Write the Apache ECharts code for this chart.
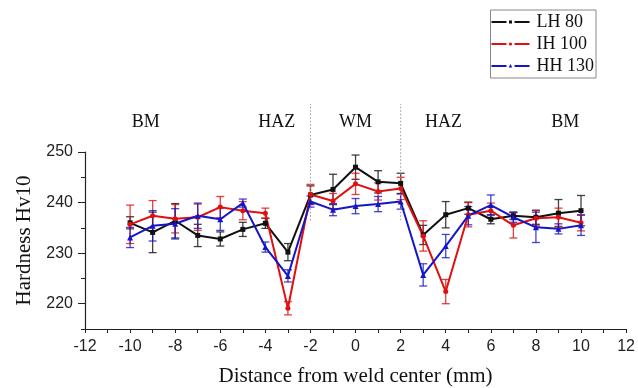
<!DOCTYPE html>
<html>
<head>
<meta charset="utf-8">
<script src="https://cdn.jsdelivr.net/npm/echarts@6/dist/echarts.min.js"></script>
<style>
  html, body { margin: 0; padding: 0; background: #fff; }
  #main { width: 638px; height: 388px; }
</style>
</head>
<body>
<div id="main"></div>
<script>
// distance from weld center (mm)
var distance = [-10, -9, -8, -7, -6, -5, -4, -3, -2, -1, 0, 1, 2, 3, 4, 5, 6, 7, 8, 9, 10];

// hardness values and error (+/-)
var lh80 = [236.0, 234.1, 236.4, 233.5, 232.8, 234.7, 235.9, 230.2, 241.5, 242.6, 247.0, 244.1, 243.8, 233.6, 237.6, 238.9, 236.7, 237.4, 237.1, 237.9, 238.4];
var lh80Err = [1.2, 4.0, 3.4, 2.2, 1.4, 1.4, 1.0, 1.7, 1.8, 3.0, 2.4, 2.2, 2.0, 1.9, 2.6, 1.2, 0.9, 0.7, 1.4, 2.7, 3.0];
var ih100 = [235.7, 237.4, 236.8, 237.1, 239.1, 238.4, 237.9, 219.1, 241.6, 240.3, 243.7, 242.2, 242.8, 233.4, 222.4, 237.6, 238.4, 235.5, 236.9, 237.1, 236.0];
var ih100Err = [3.8, 3.0, 2.8, 2.6, 2.1, 1.8, 1.0, 1.3, 2.0, 1.5, 2.1, 1.7, 2.2, 3.0, 2.4, 2.4, 1.5, 2.5, 1.5, 1.8, 1.6];
var hh130 = [233.1, 235.4, 235.8, 237.4, 236.7, 239.9, 231.2, 225.5, 240.2, 238.6, 239.3, 239.7, 240.2, 225.7, 231.4, 237.4, 239.5, 237.1, 235.1, 234.8, 235.5];
var hh130Err = [2.0, 3.0, 3.0, 2.5, 2.2, 0.8, 1.0, 1.2, 1.1, 1.2, 1.5, 1.5, 1.5, 2.2, 2.3, 1.8, 2.0, 1.0, 3.0, 1.0, 2.0];

// zone annotations
var zoneNames = ['BM', 'HAZ', 'WM', 'HAZ', 'BM'];
var zoneX = [-9.3, -3.5, 0, 3.9, 9.3];
var zoneY = 255.9;
var boundaryX = [-2, 2];
var boundaryRange = [236.5, 259.5];

// y ticks
var yMajorTicks = [220, 230, 240, 250];

var chart = echarts.init(document.getElementById('main'));

function pairs(ys) {
  return distance.map(function (x, i) { return [x, ys[i]]; });
}
function errData(ys, es) {
  return distance.map(function (x, i) { return [x, ys[i] - es[i], ys[i] + es[i]]; });
}

function errSeries(ys, es, color) {
  return {
    type: 'custom',
    data: errData(ys, es),
    z: 1,
    silent: true,
    renderItem: function (params, api) {
      var x = api.value(0);
      var lo = api.coord([x, api.value(1)]);
      var hi = api.coord([x, api.value(2)]);
      var w = 4;
      var st = { stroke: color, lineWidth: 1.3, opacity: 0.8 };
      return {
        type: 'group',
        children: [
          { type: 'line', shape: { x1: lo[0], y1: lo[1], x2: hi[0], y2: hi[1] }, style: st },
          { type: 'line', shape: { x1: lo[0] - w, y1: lo[1], x2: lo[0] + w, y2: lo[1] }, style: st },
          { type: 'line', shape: { x1: hi[0] - w, y1: hi[1], x2: hi[0] + w, y2: hi[1] }, style: st }
        ]
      };
    }
  };
}

var BLACK = '#111111', RED = '#e01010', BLUE = '#1616c8';
var serif = 'Liberation Serif, Times New Roman, serif';
var sans = 'Liberation Sans, Arial, sans-serif';

// legend icons: line - marker - line
var legendLines = 'M0,1h15v2h-15z M23,1h15v2h-15z ';
var legendIcons = {
  'LH 80': 'path://' + legendLines + 'M17.5,0.5h3v3h-3z',
  'IH 100': 'path://' + legendLines + 'M17.4,2a1.6,1.6 0 1,0 3.2,0a1.6,1.6 0 1,0 -3.2,0z',
  'HH 130': 'path://' + legendLines + 'M19,0L20.8,3.6H17.2z M0,0h0.01v4h-0.01z'
};

var option = {
  animation: false,
  backgroundColor: '#fff',
  grid: { left: 85, right: 11, top: 152, bottom: 59, containLabel: false },
  legend: {
    orient: 'vertical',
    right: 42,
    top: 10,
    padding: [3, 2, 3, 1],
    borderColor: '#888',
    borderWidth: 1,
    itemWidth: 38,
    itemHeight: 4,
    itemGap: 4,
    textStyle: { fontFamily: serif, fontSize: 18, color: '#111', padding: [0, 0, 0, 2] },
    data: ['LH 80', 'IH 100', 'HH 130'].map(function (n) {
      return { name: n, icon: legendIcons[n] };
    })
  },
  xAxis: {
    type: 'value',
    min: -12,
    max: 12,
    interval: 2,
    name: 'Distance from weld center (mm)',
    nameLocation: 'middle',
    nameGap: 37,
    nameTextStyle: { fontFamily: serif, fontSize: 21, color: '#111' },
    axisLine: { show: true, onZero: false, lineStyle: { color: '#222', width: 1.2 } },
    axisTick: { show: true, inside: false, length: 4, lineStyle: { color: '#222' } },
    minorTick: { show: true, splitNumber: 2, length: 4, lineStyle: { color: '#222' } },
    axisLabel: { fontFamily: sans, fontSize: 16, color: '#222', margin: 10 },
    splitLine: { show: false }
  },
  yAxis: [{
    type: 'value',
    min: 215,
    max: 250,
    interval: 5,
    name: 'Hardness Hv10',
    nameLocation: 'middle',
    nameGap: 47,
    nameTextStyle: { fontFamily: serif, fontSize: 21, color: '#111' },
    axisLine: { show: true, onZero: false, lineStyle: { color: '#222', width: 1.2 } },
    axisTick: { show: true, length: 4, lineStyle: { color: '#222' } },
    axisLabel: { customValues: yMajorTicks, fontFamily: sans, fontSize: 16, color: '#222', margin: 12 },
    splitLine: { show: false }
  }, {
    type: 'value',
    min: 215,
    max: 250,
    interval: 5,
    position: 'left',
    axisLine: { show: false, onZero: false },
    axisTick: { show: true, customValues: yMajorTicks, length: 7, lineStyle: { color: '#222' } },
    axisLabel: { show: false },
    splitLine: { show: false }
  }],
  series: [
    errSeries(lh80, lh80Err, BLACK),
    errSeries(ih100, ih100Err, RED),
    errSeries(hh130, hh130Err, BLUE),
    {
      name: 'LH 80', type: 'line', data: pairs(lh80), z: 3,
      symbol: 'rect', symbolSize: 5, color: BLACK,
      lineStyle: { width: 2, color: BLACK }, itemStyle: { color: BLACK }
    },
    {
      name: 'IH 100', type: 'line', data: pairs(ih100), z: 3,
      symbol: 'circle', symbolSize: 5, color: RED,
      lineStyle: { width: 2, color: RED }, itemStyle: { color: RED }
    },
    {
      name: 'HH 130', type: 'line', data: pairs(hh130), z: 3,
      symbol: 'triangle', symbolSize: 6, color: BLUE,
      lineStyle: { width: 2, color: BLUE }, itemStyle: { color: BLUE }
    },
    {
      // zone boundaries (dotted)
      type: 'custom',
      clip: false,
      silent: true,
      data: boundaryX.map(function (x) { return [x, boundaryRange[0], boundaryRange[1]]; }),
      renderItem: function (params, api) {
        var a = api.coord([api.value(0), api.value(1)]);
        var b = api.coord([api.value(0), api.value(2)]);
        return {
          type: 'line',
          shape: { x1: a[0], y1: a[1], x2: b[0], y2: b[1] },
          style: { stroke: '#999', lineWidth: 1, lineDash: [1.5, 2] }
        };
      }
    },
    {
      // zone labels
      type: 'custom',
      clip: false,
      silent: true,
      data: zoneNames.map(function (n, i) { return [zoneX[i], zoneY, n]; }),
      renderItem: function (params, api) {
        var p = api.coord([api.value(0), api.value(1)]);
        return {
          type: 'text',
          x: p[0], y: p[1],
          style: {
            text: zoneNames[params.dataIndex],
            fontFamily: serif, fontSize: 18, fill: '#111',
            align: 'center', verticalAlign: 'middle'
          }
        };
      }
    }
  ]
};

chart.setOption(option);
</script>
</body>
</html>
